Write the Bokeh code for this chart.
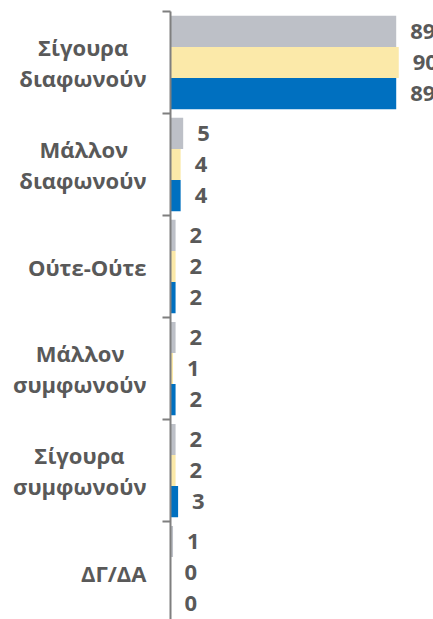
from bokeh.plotting import figure
from bokeh.models import ColumnDataSource, Range1d, LinearAxis, FixedTicker
from bokeh.transform import dodge
from bokeh.core.properties import value
from bokeh.embed import file_html
from bokeh.resources import INLINE

# Two-line labels: first line is centred over the second one (padding keeps it centred
# since Bokeh right-aligns each line of a left-axis label)
PAD_A = "\u2002\u2004"
PAD_B = "\u2002\u2002"
categories = ["Σίγουρα" + PAD_A + "\nδιαφωνούν",
              "Μάλλον" + PAD_A + "\nδιαφωνούν",
              "Ούτε-Ούτε",
              "Μάλλον" + PAD_B + "\nσυμφωνούν",
              "Σίγουρα" + PAD_B + "\nσυμφωνούν",
              "ΔΓ/ΔΑ"]
series_grey = [89, 5, 2, 2, 2, 1]
series_yellow = [90, 4, 2, 1, 2, 0]
series_blue = [89, 4, 2, 2, 3, 0]

colors = {"grey": "#BDC0C7", "yellow": "#FBE9A9", "blue": "#0070C0"}
text_color = "#595959"
axis_color = "#7F7F7F"
FONT = "Open Sans"

pos = [i + 0.5 for i in range(len(categories))]
src = ColumnDataSource(dict(
    pos=pos,
    grey=series_grey, yellow=series_yellow, blue=series_blue,
    grey_l=[str(v) for v in series_grey],
    yellow_l=[str(v) for v in series_yellow],
    blue_l=[str(v) for v in series_blue],
))

p = figure(width=433, height=619, output_backend="svg", toolbar_location=None,
           x_range=Range1d(0, 103.7), y_range=Range1d(5.96, 0),
           x_axis_type=None, y_axis_type=None,
           min_border_left=170, min_border_top=11, min_border_bottom=0, min_border_right=0)
p.outline_line_color = None
p.background_fill_color = "white"

bar_h = 0.305
for name, off in (("grey", -bar_h), ("yellow", 0.0), ("blue", bar_h)):
    yy = dodge("pos", off, range=p.y_range)
    p.hbar(y=yy, left=0, right=name, height=bar_h, source=src,
           fill_color=colors[name], line_color=None)
    p.text(x=name, y=yy, text=name + "_l", source=src, x_offset=14,
           text_baseline="middle", text_align="left",
           text_font=value(FONT), text_font_style="bold",
           text_font_size="22px", text_color=text_color)

edges = list(range(len(categories) + 1))
edge_axis = LinearAxis(ticker=FixedTicker(ticks=edges, minor_ticks=[]),
                       major_label_overrides={e: "" for e in edges},
                       major_tick_out=8, major_tick_in=0,
                       major_label_standoff=0,
                       axis_line_color=axis_color, axis_line_width=2,
                       major_tick_line_color=axis_color, major_tick_line_width=2,
                       minor_tick_line_color=None)
p.add_layout(edge_axis, "left")

cat_axis = LinearAxis(ticker=FixedTicker(ticks=pos, minor_ticks=[]),
                      major_label_overrides={pv: c for pv, c in zip(pos, categories)},
                      axis_line_color=None, major_tick_line_color=None,
                      minor_tick_line_color=None, major_tick_out=0, major_tick_in=0,
                      major_label_standoff=16,
                      major_label_text_font=FONT, major_label_text_font_style="bold",
                      major_label_text_font_size="22px", major_label_text_color=text_color,
                      major_label_text_line_height=1.04)
p.add_layout(cat_axis, "left")

open("out.html", "w").write(file_html(p, INLINE))
